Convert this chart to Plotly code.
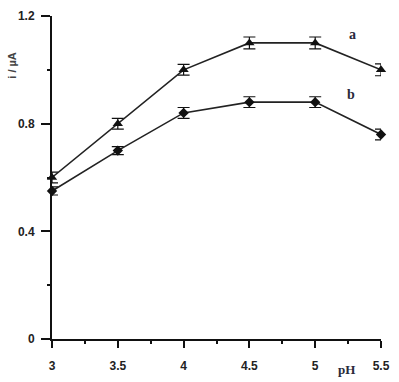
import plotly.graph_objects as go

ph = [3, 3.5, 4, 4.5, 5, 5.5]
curve_a = [0.60, 0.80, 1.00, 1.10, 1.10, 1.00]
curve_b = [0.55, 0.70, 0.84, 0.88, 0.88, 0.76]
err_a = [0.02, 0.02, 0.02, 0.022, 0.022, 0.022]
err_b = [0.015, 0.015, 0.02, 0.02, 0.02, 0.02]

fig = go.Figure()
for ys, es, sym, sz in [(curve_a, err_a, "triangle-up", 9), (curve_b, err_b, "diamond", 8)]:
    fig.add_trace(go.Scatter(
        x=ph, y=ys, mode="lines+markers",
        line=dict(color="#222222", width=1.6),
        marker=dict(symbol=sym, size=sz, color="#111111"),
        error_y=dict(type="data", array=es, visible=True, color="#111111",
                     thickness=1.2, width=6),
        cliponaxis=False, showlegend=False,
    ))

tickfont = dict(family="Arial, Liberation Sans, sans-serif", size=12,
                color="#222222", weight="bold")
fig.update_layout(
    width=399, height=382,
    margin=dict(l=52, r=16, t=9, b=40),
    paper_bgcolor="white", plot_bgcolor="white",
    xaxis=dict(range=[3, 5.5], tickmode="linear", tick0=3, dtick=0.5,
               showgrid=False, zeroline=False, showline=True,
               linecolor="#111111", linewidth=2, ticks="outside",
               ticklen=7, tickwidth=2, tickcolor="#111111", tickfont=tickfont,
               ticklabelstandoff=8,
               minor=dict(tick0=3, dtick=0.25, ticks="outside", ticklen=3,
                          tickwidth=2, tickcolor="#111111", showgrid=False),
               fixedrange=True),
    yaxis=dict(range=[0, 1.2], tickmode="linear", tick0=0, dtick=0.4,
               showgrid=False, zeroline=False, showline=True,
               linecolor="#111111", linewidth=2, ticks="outside",
               ticklen=9, tickwidth=2, tickcolor="#111111", tickfont=tickfont,
               ticklabelstandoff=4,
               minor=dict(tick0=0, dtick=0.2, ticks="outside", ticklen=3,
                          tickwidth=2, tickcolor="#111111", showgrid=False),
               fixedrange=True),
)

serif = dict(family="Liberation Serif, DejaVu Serif, serif", size=14,
             color="#2a2a3a", weight="bold")
fig.add_annotation(x=5.28, y=1.13, text="a", showarrow=False, font=serif,
                   xref="x", yref="y")
fig.add_annotation(x=5.27, y=0.91, text="b", showarrow=False, font=serif,
                   xref="x", yref="y")
fig.add_annotation(x=348, y=373, text="pH", showarrow=False,
                   xanchor="center", yanchor="middle",
                   font=dict(family="Liberation Serif, DejaVu Serif, serif",
                             size=13, color="#2a2a3a", weight="bold"),
                   xref="paper", yref="paper")
fig.add_annotation(x=12, y=60, text="i / µA", showarrow=False, textangle=-90,
                   xanchor="center", yanchor="middle",
                   font=dict(family="Arial, Liberation Sans, sans-serif",
                             size=11, color="#444444", weight="bold"),
                   xref="paper", yref="paper")

# convert pixel positions of the last two annotations to paper coords
pw, ph_px = 399 - 52 - 16, 382 - 9 - 40
for ann in fig.layout.annotations[2:]:
    ann.x = (ann.x - 52) / pw
    ann.y = (382 - 40 - ann.y) / ph_px

fig.write_html("out.html")
